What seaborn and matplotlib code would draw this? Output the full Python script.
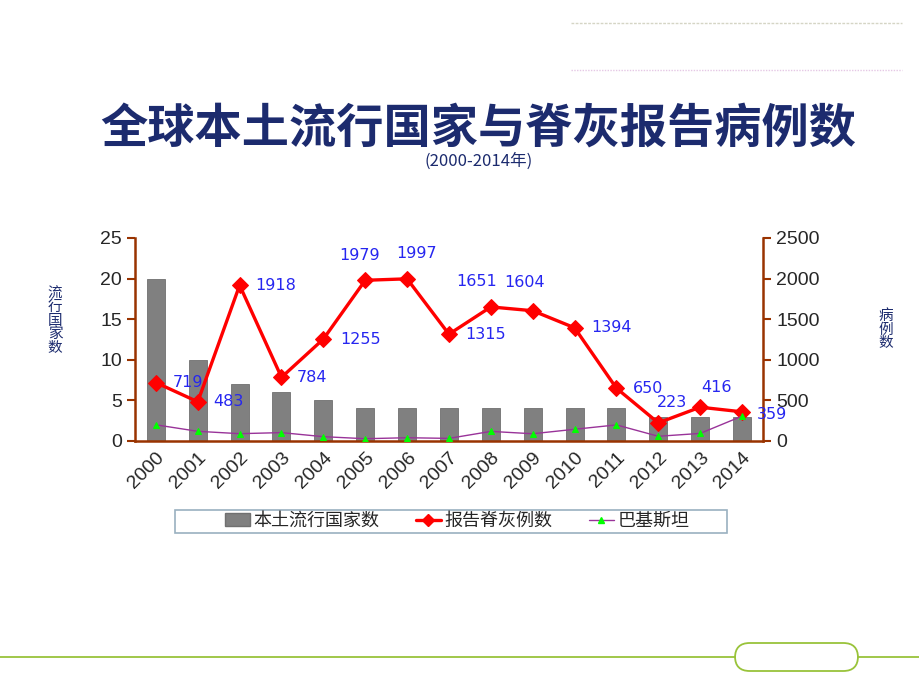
import numpy as np
import matplotlib
matplotlib.use('Agg')
import matplotlib.pyplot as plt
from matplotlib.lines import Line2D
from matplotlib.patches import Patch, FancyBboxPatch, Rectangle
import seaborn as sns

years = ['2000', '2001', '2002', '2003', '2004', '2005', '2006', '2007',
         '2008', '2009', '2010', '2011', '2012', '2013', '2014']
endemic_countries = [20, 10, 7, 6, 5, 4, 4, 4, 4, 4, 4, 4, 3, 3, 3]
polio_cases = [719, 483, 1918, 784, 1255, 1979, 1997, 1315, 1651, 1604,
               1394, 650, 223, 416, 359]
pakistan_cases = [199, 119, 90, 103, 53, 28, 40, 32, 118, 89, 144, 198,
                  58, 93, 306]

# label offsets (points) for the case numbers
label_offsets = [(12, 0), (11, 0), (11, 0), (11, 0), (12, 0), (-4, 18),
                 (7, 18), (12, 0), (-10, 18), (-6, 20), (12, 0), (12, 0),
                 (10, 15), (12, 14), (11, -2)]

sns.set_theme(style='white')
plt.rcParams['font.family'] = ['Noto Sans CJK SC', 'DejaVu Sans']

navy = '#1C2B6E'
brown = '#993300'

fig = plt.figure(figsize=(9.2, 6.9), dpi=100)
ax = fig.add_axes([0.1467, 0.3609, 0.6826, 0.2942])
ax2 = ax.twinx()

sns.barplot(x=years, y=endemic_countries, color='#808080', width=0.43,
            saturation=1, edgecolor='#707070', linewidth=0.6, ax=ax)

pos = np.arange(len(years))
sns.lineplot(x=pos, y=polio_cases, color='#FF0000', linewidth=2.4,
             marker='D', markersize=8.5, markeredgecolor='#FF0000', ax=ax2)
sns.lineplot(x=pos, y=pakistan_cases, color='#993399', linewidth=1.0,
             marker='^', markersize=4.5, markerfacecolor='#00FF00',
             markeredgecolor='#00FF00', ax=ax2)

for i, v in enumerate(polio_cases):
    dx, dy = label_offsets[i]
    ax2.annotate(str(v), (pos[i], v), xytext=(dx, dy), textcoords='offset points',
                 ha='left' if abs(dy) < 5 else 'center', va='center',
                 color='#2626F0', fontsize=11.5, family=['DejaVu Sans'])

ax.set_xlim(-0.5, len(years) - 0.5)
ax.set_ylim(0, 25)
ax2.set_ylim(0, 2500)
ax.set_yticks(range(0, 26, 5))
ax2.set_yticks(range(0, 2501, 500))
ax.set_xlabel('')
ax.set_ylabel('')
ax2.set_ylabel('')

# year labels under each bar, tick marks between bars
ax.set_xticks(pos)
ax.set_xticklabels(years, rotation=45, ha='right', rotation_mode='anchor',
                   fontsize=14, family=['Liberation Sans'])
ax.set_xticks(np.arange(-0.5, len(years)), minor=True)
ax.tick_params(axis='x', which='major', length=0, pad=6)
ax.tick_params(axis='x', which='minor', length=6, width=1.5, color=brown,
               direction='out')
ax.tick_params(axis='y', length=6, width=1.5, color=brown, direction='out',
               left=True, labelsize=14)
ax2.tick_params(axis='y', length=6, width=1.5, color=brown, direction='out',
                right=True, labelsize=14)
for lab in ax.get_yticklabels() + ax2.get_yticklabels():
    lab.set_family(['Liberation Sans'])

for a in (ax, ax2):
    a.spines['top'].set_visible(False)
    for s in ('left', 'right', 'bottom'):
        a.spines[s].set_color(brown)
        a.spines[s].set_linewidth(1.8)
ax.spines['right'].set_visible(False)
ax2.spines['left'].set_visible(False)
ax2.spines['bottom'].set_visible(False)
ax.grid(False)
ax2.grid(False)

fig.text(0.060, 0.535, '流\n行\n国\n家\n数', ha='center', va='center',
         color=navy, fontsize=10.5, linespacing=0.95)
fig.text(0.963, 0.522, '病\n例\n数', ha='center', va='center',
         color=navy, fontsize=10.5, linespacing=0.95)

fig.text(0.520, 0.814, '全球本土流行国家与脊灰报告病例数', ha='center',
         va='center', color=navy, fontsize=34, fontweight='bold')
fig.text(0.520, 0.767, '(2000-2014年)', ha='center', va='center',
         color=navy, fontsize=12)

handles = [Patch(facecolor='#808080', edgecolor='#707070'),
           Line2D([], [], color='#FF0000', lw=2.4, marker='D', markersize=6),
           Line2D([], [], color='#993399', lw=1.0, marker='^', markersize=4,
                  markerfacecolor='#00FF00', markeredgecolor='#00FF00')]
fig.legend(handles, ['本土流行国家数', '报告脊灰例数', '巴基斯坦'],
           loc='center', bbox_to_anchor=(457 / 920, 1 - 521 / 690), ncol=3,
           fontsize=13, frameon=False, handlelength=1.4, handletextpad=0.2,
           columnspacing=2.0, borderpad=0, borderaxespad=0)
fig.add_artist(Rectangle((175 / 920, 1 - 533 / 690), 552 / 920, 23 / 690,
                         transform=fig.transFigure, facecolor='none',
                         edgecolor='#9AB0C0', lw=1.2))

# slide decorations
fig.add_artist(Line2D([571 / 920, 902 / 920], [1 - 23 / 690, 1 - 23 / 690],
                      color='#D5D5C5', lw=1, ls=(0, (2, 1))))
fig.add_artist(Line2D([571 / 920, 902 / 920], [1 - 70 / 690, 1 - 70 / 690],
                      color='#E5C8E5', lw=1, ls=(0, (1, 1))))
fig.add_artist(Line2D([0, 735 / 920], [1 - 657 / 690, 1 - 657 / 690],
                      color='#99C33A', lw=1.3))
fig.add_artist(Line2D([858 / 920, 1], [1 - 657 / 690, 1 - 657 / 690],
                      color='#99C33A', lw=1.3))
fig.add_artist(FancyBboxPatch((735 / 920, 1 - 671 / 690), 123 / 920, 28 / 690,
                              boxstyle='round,pad=0,rounding_size=0.016',
                              transform=fig.transFigure, facecolor='none',
                              edgecolor='#99C33A', lw=1.3,
                              mutation_aspect=920 / 690))

fig.savefig('out.png', dpi=100)
